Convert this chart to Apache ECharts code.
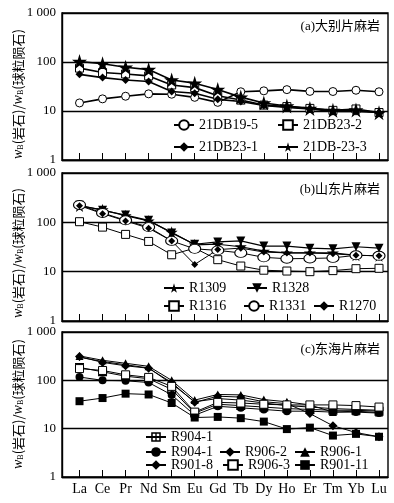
<!DOCTYPE html>
<html><head><meta charset="utf-8">
<script src="https://cdn.jsdelivr.net/npm/echarts@6/dist/echarts.min.js"></script>
<style>html,body{margin:0;padding:0;background:#fff}#c{width:394px;height:503px}</style>
</head><body><div id="c"></div>
<script>
// ---- data ----
const CATS = ['La','Ce','Pr','Nd','Sm','Eu','Gd','Tb','Dy','Ho','Er','Tm','Yb','Lu'];
const Y_TICKS = [1, 10, 100, 1000];
const Y_LABELS = ['1', '10', '100', '1 000'];
const PANEL_TITLES = ['(a)大别片麻岩', '(b)山东片麻岩', '(c)东海片麻岩'];

// panel (a)
const A_21DB19_5 = [14.6,17.7,20,22.4,22,19,15,24.7,25.8,27.3,25.1,25,26.5,24.7];
const A_21DB23_2 = [75,61,57,52,34,30,20.5,16.7,13.2,12.3,11.3,10.3,11,9.3];
const A_21DB23_1 = [56,48,43,40,25,23,17.3,15.6,13,11.8,11,9.8,9.8,9.3];
const A_21DB23_3 = [102,92,78,70,43,37,27.5,19.2,14.6,12.6,11.3,10.3,10.5,9.2];
// panel (b)
const B_R1309 = [215,180,136,107,63,35,36,32,26,24,24,24,21.5,21];
const B_R1328 = [222,175,140,110,61,36,40,42,33,33,30,29,32,30];
const B_R1316 = [103,80,57,41,22,30,17.5,13,10.7,10.3,10,10.5,11.5,11.7];
const B_R1331 = [225,155,110,80,42,29,27,24,19.5,18.3,18.5,19,21.5,21];
const B_R1270 = [218,150,107,76,42,14,28,30,25,24,24,23,21.5,21];
// panel (c)
const C_R904_1a = [185,150,122,108,65,21,32,30,28,26,25,24,24,23];
const C_R904_1b = [117,100,98,90,50,19,29,27,25,23,23,22,22,21];
const C_R906_2 = [300,245,210,180,85,36,42,39,34,30,28,26,25,24];
const C_R906_1 = [320,260,225,195,100,39,51,50,40,36,31,22,23,21.5];
const C_R901_8 = [310,235,200,178,90,35,47,45,36,33,20.5,11.5,8.3,6.8];
const C_R906_3 = [175,160,130,115,75,22,35,34,32,31,31,31,30,28];
const C_R901_11 = [37,43,53,51,34,17,17.5,16.5,14,9.8,10.5,7.2,7.8,6.8];

// ---- styles ----
const SERIF = "'Liberation Serif','Noto Sans CJK SC',serif";
const STAR = 'path://M50,0 L61,35 L98,35 L68,57 L79,91 L50,70 L21,91 L32,57 L2,35 L39,35 Z';
const GRIDSQ = 'path://M0,0 H10 V10 H0 Z M1.6,1.6 V4.3 H4.3 V1.6 Z M5.7,1.6 V4.3 H8.4 V1.6 Z M1.6,5.7 V8.4 H4.3 V5.7 Z M5.7,5.7 V8.4 H8.4 V5.7 Z';
const openSym = {color:'#fff', borderColor:'#000', borderWidth:1};
const fillSym = {color:'#000', borderColor:'#000', borderWidth:0};

// series definitions: [key, label, data, panel, symbol, size, itemStyle, lineWidth, rotate, legendLeft, legendCenterY]
const DEFS = [
  ['a1','21DB19-5',A_21DB19_5,0,'circle',8,openSym,1.6,0,173,125],
  ['a2','21DB23-2',A_21DB23_2,0,'rect',8,openSym,1.6,0,277,125],
  ['a3','21DB23-1',A_21DB23_1,0,'diamond',8,fillSym,1.6,0,173,147],
  ['a4','21DB-23-3',A_21DB23_3,0,STAR,15,fillSym,1.6,0,277,147],
  ['b1','R1309',B_R1309,1,STAR,12,fillSym,1.2,0,163,288],
  ['b2','R1328',B_R1328,1,'triangle',9,fillSym,1.2,180,246,288],
  ['b3','R1316',B_R1316,1,'rect',8,openSym,1,0,163,306],
  ['b4','R1331',B_R1331,1,'circle',[12,9],openSym,1,0,243,306],
  ['b5','R1270',B_R1270,1,'diamond',7,fillSym,1,0,313,306],
  ['c1','R904-1',C_R904_1a,2,GRIDSQ,9,fillSym,1,0,145,437],
  ['c2','R904-1',C_R904_1b,2,'circle',8,fillSym,1,0,145,452],
  ['c3','R906-2',C_R906_2,2,'diamond',7,fillSym,1,0,219,452],
  ['c4','R906-1',C_R906_1,2,'triangle',8,fillSym,1,0,294,452],
  ['c5','R901-8',C_R901_8,2,'diamond',9,fillSym,1,0,145,465],
  ['c6','R906-3',C_R906_3,2,'rect',8,openSym,1,0,222,465],
  ['c7','R901-11',C_R901_11,2,'rect',8,fillSym,1,0,294,465]
];
const LABEL_OF = {};
DEFS.forEach(d => LABEL_OF[d[0]] = d[1]);

const GRIDS = [
  {left:62, top:13, width:326, height:147},
  {left:62, top:173, width:326, height:148},
  {left:62, top:332, width:326, height:145}
];

const idx = CATS.map((c,i)=>i);

const option = {
  animation:false,
  backgroundColor:'#fff',
  grid: GRIDS.map(g => Object.assign({show:true, borderColor:'#000', borderWidth:1.4, backgroundColor:'transparent'}, g)),
  xAxis: GRIDS.map((g,k) => ({
    type:'value', gridIndex:k, min:-0.76, max:13.39,
    axisLine:{show:true, onZero:false, lineStyle:{color:'#000', width:1.4}},
    axisTick:{show:true, inside:true, length:7, customValues: idx, lineStyle:{color:'#000', width:1}},
    axisLabel:{show:k===2, customValues: idx, margin:5, color:'#000', fontFamily:SERIF, fontSize:14,
      formatter: v => CATS[Math.round(v)]},
    splitLine:{show:false}
  })),
  yAxis: GRIDS.map((g,k) => ({
    type:'log', logBase:10, gridIndex:k, min:1, max:1000,
    axisLine:{show:true, onZero:false, lineStyle:{color:'#000', width:1.4}},
    axisTick:{show:false},
    minorTick:{show:false},
    axisLabel:{color:'#000', fontFamily:SERIF, fontSize:13, margin:6,
      formatter: v => { const i = Y_TICKS.indexOf(Math.round(v)); return i>=0 ? Y_LABELS[i] : ''; }},
    splitLine:{show:true, lineStyle:{color:'#000', width:1.3}}
  })),
  legend: DEFS.map(d => ({
    data:[d[0]], left:d[9], top:d[10]-7, padding:0, itemWidth:20, itemHeight:12,
    selectedMode:false, textStyle:{color:'#000', fontFamily:SERIF, fontSize:14},
    formatter: n => LABEL_OF[n]
  })),
  series: DEFS.map(d => ({
    type:'line', name:d[0], xAxisIndex:d[3], yAxisIndex:d[3],
    data: d[2].map((v,i)=>[i,v]),
    symbol:d[4], symbolSize:d[5], symbolRotate:d[8],
    itemStyle:d[6], lineStyle:{color:'#000', width:d[7]},
    showAllSymbol:true, silent:true
  })),
  graphic: [
    ...PANEL_TITLES.map((t,k) => ({
      type:'text', x:380, y:[27,190,350][k],
      style:{text:t, fill:'#000', font:"13px 'Liberation Serif','Noto Sans CJK SC'", textAlign:'right', textVerticalAlign:'middle'}
    })),
    ...[94,253,404].map(cy => ({
      type:'text', x:18, y:cy, rotation:Math.PI/2,
      style:{
        text:'{i|w}{s|B}(岩石)/{i|w}{s|B}(球粒陨石)',
        fill:'#000', font:"13px 'Noto Sans CJK SC'", textAlign:'center', textVerticalAlign:'middle',
        rich:{
          i:{fontFamily:'Liberation Serif', fontStyle:'italic', fontSize:14, fill:'#000'},
          s:{fontFamily:'Liberation Serif', fontSize:8, fill:'#000', padding:[5,0,0,0]}
        }
      }
    }))
  ]
};
const chart = echarts.init(document.getElementById('c'), null, {renderer:'canvas'});
chart.setOption(option);
</script></body></html>
